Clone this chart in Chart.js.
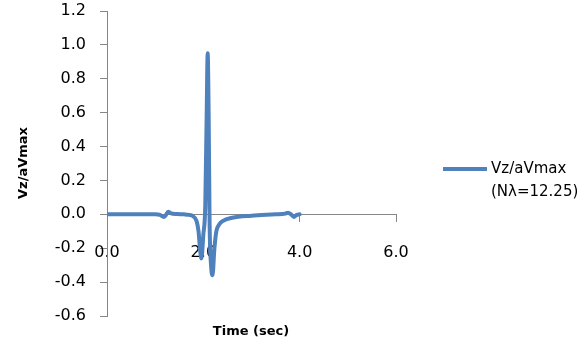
<!DOCTYPE html>
<html>
<head>
<meta charset="utf-8">
<script src="https://cdn.jsdelivr.net/npm/chart.js@4/dist/chart.umd.min.js"></script>
<style>
  html, body { margin: 0; padding: 0; background: #fff; }
  #wrap { width: 581px; height: 345px; }
</style>
</head>
<body>
<div id="wrap"><canvas id="vzChart" width="581" height="345"></canvas></div>
<script>
const timeSec = [0, 0.5, 1.0, 1.1, 1.18, 1.22, 1.27, 1.33, 1.45, 1.6, 1.7, 1.78, 1.86, 1.9, 1.93, 1.96, 2.0, 2.04, 2.07, 2.09, 2.11, 2.13, 2.16, 2.19, 2.23, 2.27, 2.33, 2.4, 2.6, 3.0, 3.5, 3.7, 3.76, 3.82, 3.88, 3.94, 4.0];
const vzRatio = [0, 0, 0, -0.003, -0.015, -0.005, 0.015, 0.006, 0.002, 0, -0.003, -0.01, -0.04, -0.1, -0.2, -0.26, -0.12, 0.05, 0.6, 0.95, 0.6, -0.05, -0.3, -0.36, -0.2, -0.1, -0.06, -0.04, -0.02, -0.008, 0, 0.004, 0.01, 0, -0.015, -0.003, 0];
const xTicks = [0, 2, 4, 6];
const yMin = -0.6, yMax = 1.2, yStep = 0.2;
const seriesLabel = ['Vz/aVmax', '(N\u03bb=12.25)'];
const xTitle = 'Time (sec)';
const yTitle = 'Vz/aVmax';

const lineColor = '#4F81BD';
const axisColor = '#868686';
const font = 'DejaVu Sans';

const extras = {
  id: 'extras',
  afterDraw(chart) {
    const c = chart.ctx;
    c.save();
    c.fillStyle = '#000';
    c.font = 'bold 13px "' + font + '"';
    c.textAlign = 'center';
    c.textBaseline = 'middle';
    c.fillText(xTitle, 251, 332);
    c.translate(24, 163);
    c.rotate(-Math.PI / 2);
    c.fillText(yTitle, 0, 0);
    c.restore();

    // legend
    c.save();
    c.strokeStyle = lineColor;
    c.lineWidth = 4;
    c.beginPath();
    c.moveTo(443, 169);
    c.lineTo(487, 169);
    c.stroke();
    c.fillStyle = '#000';
    c.font = '15px "' + font + '"';
    c.textAlign = 'left';
    c.textBaseline = 'middle';
    seriesLabel.forEach((t, i) => c.fillText(t, 491, 169 + i * 23));
    c.restore();
  }
};

new Chart(document.getElementById('vzChart'), {
  type: 'scatter',
  data: {
    datasets: [{
      label: seriesLabel.join(' '),
      data: timeSec.map((t, i) => ({ x: t, y: vzRatio[i] })),
      showLine: true,
      borderColor: lineColor,
      backgroundColor: lineColor,
      borderWidth: 4,
      pointRadius: 0,
      cubicInterpolationMode: 'monotone',
      borderCapStyle: 'round',
      borderJoinStyle: 'round'
    }]
  },
  options: {
    responsive: false,
    animation: false,
    layout: { padding: { left: 47, right: 185, top: 11, bottom: 29 } },
    plugins: {
      legend: { display: false },
      tooltip: { enabled: false }
    },
    scales: {
      x: {
        type: 'linear',
        position: { y: 0 },
        min: 0,
        max: 6,
        afterBuildTicks: (scale) => { scale.ticks = xTicks.map(v => ({ value: v })); },
        grid: { drawOnChartArea: false, drawTicks: true, tickLength: 7, color: axisColor },
        border: { color: axisColor, width: 1 },
        ticks: {
          padding: 22,
          color: '#000',
          font: { family: font, size: 16 },
          callback: v => Number(v).toFixed(1),
          maxRotation: 0
        }
      },
      y: {
        type: 'linear',
        position: 'left',
        min: yMin,
        max: yMax,
        afterFit: (scale) => {
          scale.width = 60;
          scale.paddingTop = 0;
          scale.paddingBottom = 0;
        },
        grid: { drawOnChartArea: false, drawTicks: true, tickLength: 7, color: axisColor },
        border: { color: axisColor, width: 1 },
        ticks: {
          stepSize: yStep,
          padding: 14,
          color: '#000',
          font: { family: font, size: 16 },
          callback: v => Number(v).toFixed(1)
        }
      }
    }
  },
  plugins: [extras]
});
</script>
</body>
</html>
